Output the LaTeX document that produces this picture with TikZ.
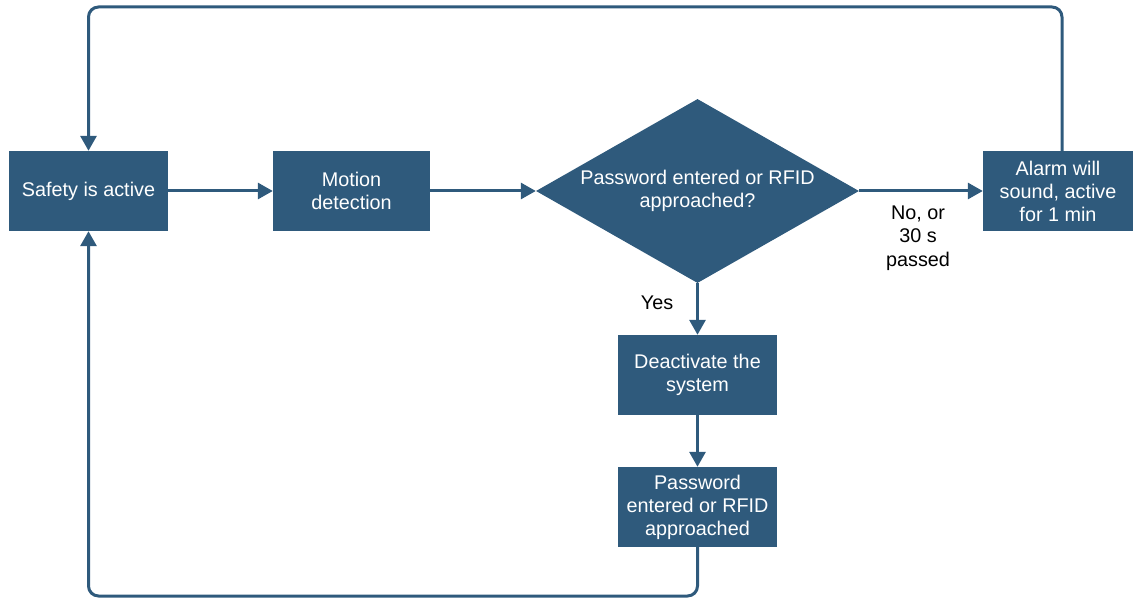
\documentclass[tikz,border=0pt]{standalone}
\usepackage{fontspec}
\setmainfont{Liberation Sans}
\usetikzlibrary{shapes.geometric,arrows.meta}
\definecolor{boxblue}{RGB}{47,90,124}
\tikzset{
  box/.style={rectangle, fill=boxblue, text=white, align=center, inner sep=0pt,
    minimum width=159pt, minimum height=80pt,
    font=\fontsize{19.8pt}{23pt}\selectfont},
  dec/.style={diamond, fill=boxblue, text=white, align=center, inner sep=0pt,
    aspect=1.755, minimum width=323pt, minimum height=184pt,
    font=\fontsize{19.8pt}{23pt}\selectfont},
  lbl/.style={align=center, inner sep=0pt, font=\fontsize{19.8pt}{23.5pt}\selectfont},
  arr/.style={draw=boxblue, line width=3pt, -{Triangle[length=15pt,width=16pt]}},
}
\begin{document}
\begin{tikzpicture}[x=1pt,y=-1pt]
\useasboundingbox (0,0) rectangle (1133,599);
\node[box] (safety) at (88.5,191) {Safety is active};
\node[box, minimum width=157pt] (motion) at (351.5,191) {Motion\\detection};
\node[dec] (q) at (697.5,191) {Password entered or RFID\\approached?};
\node[box, minimum width=150pt] (alarm) at (1058,191) {Alarm will\\sound, active\\for 1 min};
\node[box] (deact) at (697.5,375) {Deactivate the\\system};
\node[box] (pwd) at (697.5,507) {Password\\entered or RFID\\approached};
\node[lbl] (nolbl) at (918,238) {No, or\\30 s\\passed};
\node[lbl] (yeslbl) at (657,303) {Yes};
\coordinate (top) at (500,7);
\coordinate (bot) at (400,596);
\draw[arr] (safety) -- (motion);
\draw[arr] (motion) -- (q.west);
\draw[arr] (q.east) -- (alarm);
\draw[arr] (q.south) -- (deact);
\draw[arr] (deact) -- (pwd);
\draw[arr, rounded corners=10pt] ([xshift=4pt]alarm.north) |- (top) -| (safety.north);
\draw[arr, rounded corners=10pt] (pwd.south) |- (bot) -| (safety.south);
\end{tikzpicture}
\end{document}
